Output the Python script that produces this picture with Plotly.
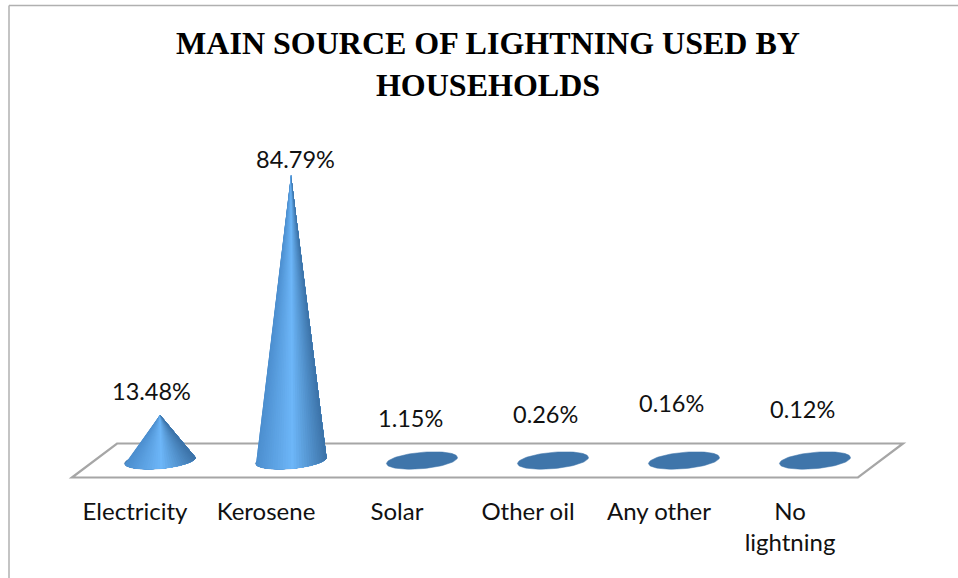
import numpy as np
import plotly.graph_objects as go

categories = ["Electricity", "Kerosene", "Solar", "Other oil", "Any other", "No<br>lightning"]
values = [13.48, 84.79, 1.15, 0.26, 0.16, 0.12]
value_labels = ["13.48%", "84.79%", "1.15%", "0.26%", "0.16%", "0.12%"]
title_text = "MAIN SOURCE OF LIGHTNING USED BY<br>HOUSEHOLDS"

# Pixel geometry of the page
W, H = 958, 578
BOTTOM_MARGIN = 88
X0_PX, X_STEP_PX = 160, 131
Y0_PX, Y_UNIT_PX = 460.5, 3.367
plot_h = H - BOTTOM_MARGIN
x_range = [-X0_PX / X_STEP_PX, (W - X0_PX) / X_STEP_PX]
y_range = [(Y0_PX - plot_h) / Y_UNIT_PX, Y0_PX / Y_UNIT_PX]

# Cone appearance (in pixels)
A_PX, B_PX, TILT_PX = 35.5, 8.2, 3.0
FLAT_BELOW = 5
BASE_COLOR = "#3f75aa"
STOPS = [(0.0, (76, 142, 206)), (0.52, (109, 182, 248)), (1.0, (60, 115, 168))]
# Manual label offsets of the original chart (px)
label_dx = [-9, 4, -12, -8, -13, -13]
label_dy = [24, 16, 38.5, 46, 57, 51]


def shade(u):
    for (u0, c0), (u1, c1) in zip(STOPS, STOPS[1:]):
        if u <= u1:
            f = (u - u0) / (u1 - u0)
            c = [round(a + (b - a) * f) for a, b in zip(c0, c1)]
            return f"rgb({c[0]},{c[1]},{c[2]})"
    return f"rgb{STOPS[-1][1]}"


def base_point(i, theta):
    x = i + A_PX * np.cos(theta) / X_STEP_PX
    y = (TILT_PX * np.cos(theta) + B_PX * np.sin(theta)) / Y_UNIT_PX
    return x, y


fig = go.Figure()

for i, v in enumerate(values):
    th = np.linspace(0, 2 * np.pi, 80)
    ex, ey = base_point(i, th)
    fig.add_trace(go.Scatter(x=ex, y=ey, mode="lines", fill="toself", fillcolor=BASE_COLOR,
                             line=dict(color=BASE_COLOR, width=0.5), hoverinfo="skip", showlegend=False))
    if v < FLAT_BELOW:
        continue
    edges = np.linspace(np.pi, 2 * np.pi, 41)
    # Painted left to right: every slice reaches the right edge, so no seams show
    for k, t0 in enumerate(edges[:-1]):
        ax, ay = base_point(i, edges[k:])
        col = shade((np.cos((t0 + edges[k + 1]) / 2) + 1) / 2)
        fig.add_trace(go.Scatter(x=[i, *ax, i], y=[v, *ay, v], mode="lines", fill="toself",
                                 fillcolor=col, line=dict(color=col, width=0),
                                 hoverinfo="skip", showlegend=False))

# Floor parallelogram derived from the category band and the depth
n = len(categories)
dx, dy = 0.172, 17 / Y_UNIT_PX
floor_x = [-0.5 - dx, -0.5 + dx, n - 0.5 + dx, n - 0.5 - dx]
floor_y = [-dy, dy, dy, -dy]
path = "M " + " L ".join(f"{a},{b}" for a, b in zip(floor_x, floor_y)) + " Z"
shapes = [
    dict(type="path", path=path, xref="x", yref="y", layer="below",
         line=dict(color="#a6a6a6", width=2.2), fillcolor="rgba(0,0,0,0)"),
    dict(type="line", xref="paper", yref="paper", x0=9 / W, x1=1, y0=1 - 5.5 / plot_h, y1=1 - 5.5 / plot_h,
         line=dict(color="#b0b0b0", width=1.5)),
    dict(type="line", xref="paper", yref="paper", x0=9 / W, x1=9 / W, y0=1 - 5.5 / plot_h, y1=1 - H / plot_h,
         line=dict(color="#b0b0b0", width=1.5)),
]

annotations = [
    dict(x=i, y=v, xref="x", yref="y", text=t, showarrow=False, xshift=sx, yshift=sy,
         font=dict(family="Lato", size=23.5, color="#111111"))
    for i, (v, t, sx, sy) in enumerate(zip(values, value_labels, label_dx, label_dy))
]

fig.update_layout(
    width=W, height=H,
    margin=dict(l=0, r=0, t=0, b=BOTTOM_MARGIN, pad=0),
    paper_bgcolor="white", plot_bgcolor="white", showlegend=False,
    title=dict(text=title_text, x=488 / W, xanchor="center", y=1 - 54 / H, yanchor="middle",
               font=dict(family="Liberation Serif", size=32, color="#000000", weight="bold")),
    xaxis=dict(range=x_range, tickmode="array", tickvals=list(range(n)), ticktext=categories,
               showgrid=False, zeroline=False, showline=False, ticks="",
               tickfont=dict(family="Lato", size=24, color="#111111"),
               ticklabelstandoff=5, ticklabelshift=-25),
    yaxis=dict(range=y_range, visible=False),
    shapes=shapes, annotations=annotations,
)
fig.write_html("out.html", config=dict(displayModeBar=False),
               post_script="document.body.style.margin='0';")
